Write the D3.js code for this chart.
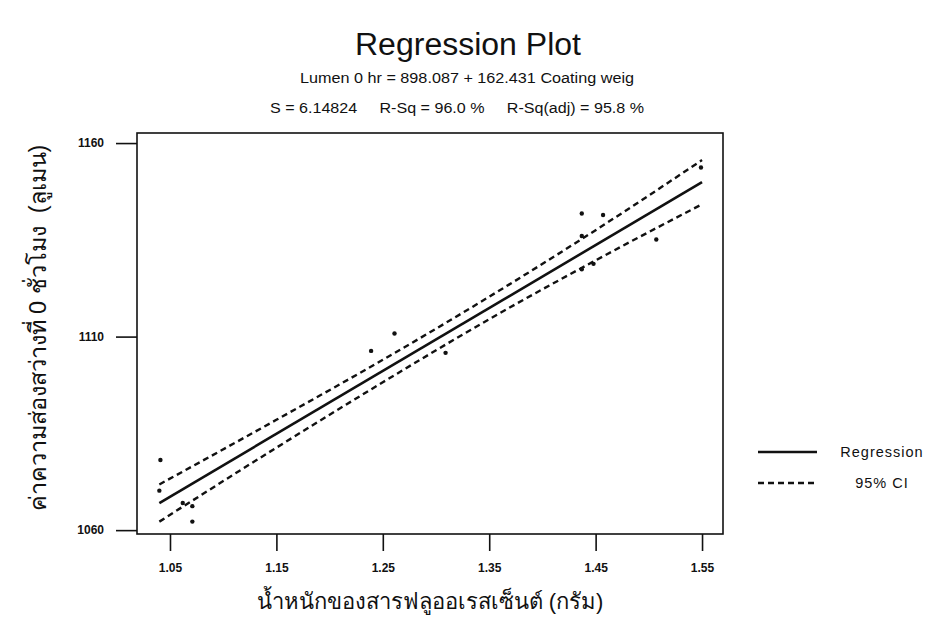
<!DOCTYPE html>
<html>
<head>
<meta charset="utf-8">
<script src="https://cdn.jsdelivr.net/npm/d3@7"></script>
<style>
  body { margin: 0; background: #fff; }
  text { font-family: Arial, "Liberation Sans", sans-serif; fill: #111; }
</style>
</head>
<body>
<div id="canvas"></div>
<script>
// observed points (coating weight g, lumen at 0 hr)
const pointX = [1.040, 1.041, 1.062, 1.071, 1.071, 1.239, 1.261, 1.309, 1.437, 1.437, 1.437, 1.448, 1.457, 1.507, 1.549];
const pointY = [1070.2, 1078.1, 1067.0, 1066.2, 1062.2, 1106.3, 1110.8, 1105.8, 1141.8, 1136.0, 1127.4, 1128.8, 1141.4, 1135.1, 1153.7];

// fitted line ends
const fitX = [1.04, 1.55];
const fitY = [1067.0, 1149.9];

// 95% CI band
const ciX = [1.04, 1.15, 1.25, 1.35, 1.45, 1.55];
const ciUpper = [1071.8, 1088.5, 1104.0, 1120.3, 1137.5, 1155.6];
const ciLower = [1062.2, 1081.3, 1098.2, 1114.5, 1129.7, 1144.2];

const xTicks = [1.05, 1.15, 1.25, 1.35, 1.45, 1.55];
const yTicks = [1060, 1110, 1160];

const legendLabels = ["Regression", "95% CI"];

const width = 928, height = 629;
const margin = { top: 133, right: 205, bottom: 95, left: 137 };
const graphWidth = width - margin.left - margin.right;
const graphHeight = height - margin.top - margin.bottom;

const svg = d3.select("#canvas").append("svg")
    .attr("width", width)
    .attr("height", height);

const graph = svg.append("g")
    .attr("transform", `translate(${margin.left},${margin.top})`);

const x = d3.scaleLinear()
    .domain([1.019, 1.5697])
    .range([0, graphWidth]);

const y = d3.scaleLinear()
    .domain([1059, 1162.6])
    .range([graphHeight, 0]);

// frame
graph.append("rect")
    .attr("width", graphWidth)
    .attr("height", graphHeight)
    .attr("fill", "none")
    .attr("stroke", "#111")
    .attr("stroke-width", 1.6);

// axes (ticks sit outside the frame)
const xAxis = graph.append("g")
    .attr("transform", `translate(0,${graphHeight})`)
    .call(d3.axisBottom(x).tickValues(xTicks).tickFormat(d3.format(".2f")).tickSize(17).tickPadding(12));
const yAxis = graph.append("g")
    .call(d3.axisLeft(y).tickValues(yTicks).tickFormat(d3.format("d")).tickSize(21).tickPadding(12));

[xAxis, yAxis].forEach(a => {
    a.select(".domain").remove();
    a.selectAll("line").attr("stroke", "#111").attr("stroke-width", 1.6);
    a.selectAll("text")
        .style("font-size", "12px")
        .style("font-weight", "bold")
        .style("font-family", "Arial, 'Liberation Sans', sans-serif")
        .attr("fill", "#222");
});

// CI lines
const ciLine = d3.line()
    .x((d, i) => x(ciX[i]))
    .y(d => y(d))
    .curve(d3.curveMonotoneX);

[ciUpper, ciLower].forEach(arr => {
    graph.append("path")
        .attr("d", ciLine(arr))
        .attr("fill", "none")
        .attr("stroke", "#111")
        .attr("stroke-width", 2.4)
        .attr("stroke-dasharray", "6,4");
});

// regression line
graph.append("path")
    .attr("d", d3.line().x((d, i) => x(fitX[i])).y(d => y(d))(fitY))
    .attr("fill", "none")
    .attr("stroke", "#111")
    .attr("stroke-width", 2.6);

// points
graph.selectAll(".pt")
    .data(pointX)
    .enter()
    .append("circle")
    .attr("class", "pt")
    .attr("cx", d => x(d))
    .attr("cy", (d, i) => y(pointY[i]))
    .attr("r", 2.2)
    .attr("fill", "#111");

// titles
svg.append("text")
    .attr("x", 468)
    .attr("y", 55)
    .attr("text-anchor", "middle")
    .style("font-size", "31px")
    .attr("textLength", 226)
    .attr("lengthAdjust", "spacingAndGlyphs")
    .text("Regression Plot");

svg.append("text")
    .attr("x", 467)
    .attr("y", 83)
    .attr("text-anchor", "middle")
    .style("font-size", "14px")
    .attr("textLength", 334)
    .attr("lengthAdjust", "spacingAndGlyphs")
    .text("Lumen 0 hr = 898.087 + 162.431 Coating weig");

svg.append("text")
    .attr("x", 457)
    .attr("y", 113)
    .attr("text-anchor", "middle")
    .style("font-size", "14px")
    .attr("xml:space", "preserve")
    .attr("textLength", 374)
    .attr("lengthAdjust", "spacingAndGlyphs")
    .text("S = 6.14824     R-Sq = 96.0 %     R-Sq(adj) = 95.8 %");

// axis labels
svg.append("text")
    .attr("x", 430)
    .attr("y", 609)
    .attr("text-anchor", "middle")
    .style("font-size", "22px")
    .text("น้ำหนักของสารฟลูออเรสเซ็นต์ (กรัม)");

svg.append("text")
    .attr("transform", "rotate(-90)")
    .attr("x", -328)
    .attr("y", 46)
    .attr("text-anchor", "middle")
    .style("font-size", "23.5px")
    .attr("xml:space", "preserve")
    .text("ค่าความส่องสว่างที่ 0 ชั่วโมง  (ลูเมน)");

// legend
const legend = svg.append("g").attr("transform", "translate(758,452)");
legendLabels.forEach((label, i) => {
    legend.append("line")
        .attr("x1", 0).attr("x2", 59)
        .attr("y1", i * 31).attr("y2", i * 31)
        .attr("stroke", "#111")
        .attr("stroke-width", 2.4)
        .attr("stroke-dasharray", i ? "6,4" : null);
    legend.append("text")
        .attr("x", 124)
        .attr("y", i * 31 + 5)
        .attr("text-anchor", "middle")
        .style("font-size", "14.5px")
        .style("letter-spacing", "1px")
        .text(label);
});
</script>
</body>
</html>
